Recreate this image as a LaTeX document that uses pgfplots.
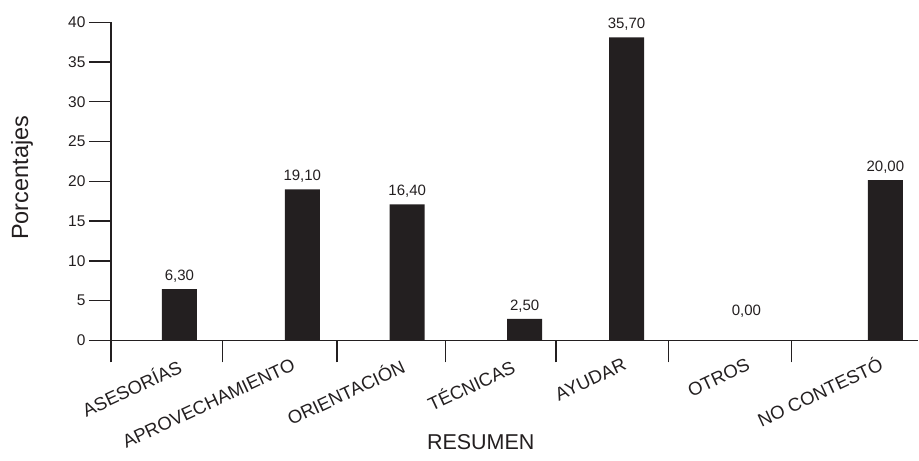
\documentclass[border=0pt]{standalone}
\usepackage{pgfplots}
\pgfplotsset{compat=1.18}
\usepackage{fontspec}
\setmainfont{Liberation Sans}
\definecolor{ink}{HTML}{231F20}

% bar centres, heights as drawn, printed values
\pgfplotstableread{
x     y      lab
179.5 6.45   6,30
302.5 19.0   19,10
407.5 17.1   16,40
525   2.7    2,50
627   38.1   35,70
886   20.15  20,00
}\bars
\pgfplotstableread{
x     y      lab
747   0      0,00
}\otros

\begin{document}
\begin{tikzpicture}
\begin{axis}[
    name=ax,
    scale only axis,
    width=808pt, height=318.4pt,
    xmin=111, xmax=919,
    ymin=0, ymax=40,
    axis lines=left,
    axis line style={-, line width=1.3pt, ink},
    every tick/.style={line width=1.3pt, ink},
    tick align=outside,
    major tick length=22pt,
    ytick={0,5,...,40},
    yticklabel style={font=\fontsize{15.5}{15.5}\selectfont, text=ink},
    /pgf/number format/assume math mode=true,
    xtick={111,222.7,337.3,446,556.3,668.7,792.3},
    xticklabels={{},ASESORÍAS,APROVECHAMIENTO,ORIENTACIÓN,TÉCNICAS,AYUDAR,OTROS},
    xticklabel style={xshift=-46pt, yshift=5pt, rotate=25, anchor=north east,
        inner sep=0pt, font=\fontsize{18.5}{18.5}\selectfont, text=ink},
    extra x ticks={919},
    extra x tick labels={NO CONTESTÓ},
    extra x tick style={tick style={draw=none},
        xticklabel style={xshift=6pt}},
    ylabel={Porcentajes},
    ylabel style={at={(axis description cs:-0.11,0.511)}, anchor=center,
        font=\fontsize{23.5}{23.5}\selectfont, text=ink},
    xlabel={RESUMEN},
    xlabel style={at={(axis description cs:0.458,-0.321)}, anchor=center,
        font=\fontsize{21.5}{21.5}\selectfont, text=ink},
    ybar, bar width=35,
    point meta=explicit symbolic,
    nodes near coords,
    every node near coord/.append style={font=\fontsize{15}{15}\selectfont, text=ink, anchor=south, yshift=3pt},
    clip=false,
]
\addplot[bar shift=0pt, fill=ink, draw=none] table[x=x, y=y, meta=lab] {\bars};
\addplot[bar shift=0pt, fill=ink, draw=none,
    every node near coord/.append style={yshift=16.5pt}] table[x=x, y=y, meta=lab] {\otros};
\end{axis}
% page frame of the reference: 111pt left, 120.3pt below, 22.3pt above the axis box
\path (ax.south west) ++(-111pt,-120.3pt) coordinate (bl);
\path (ax.north east) ++(0pt,22.3pt) coordinate (tr);
\path (bl) rectangle (tr);
\end{tikzpicture}
\end{document}
